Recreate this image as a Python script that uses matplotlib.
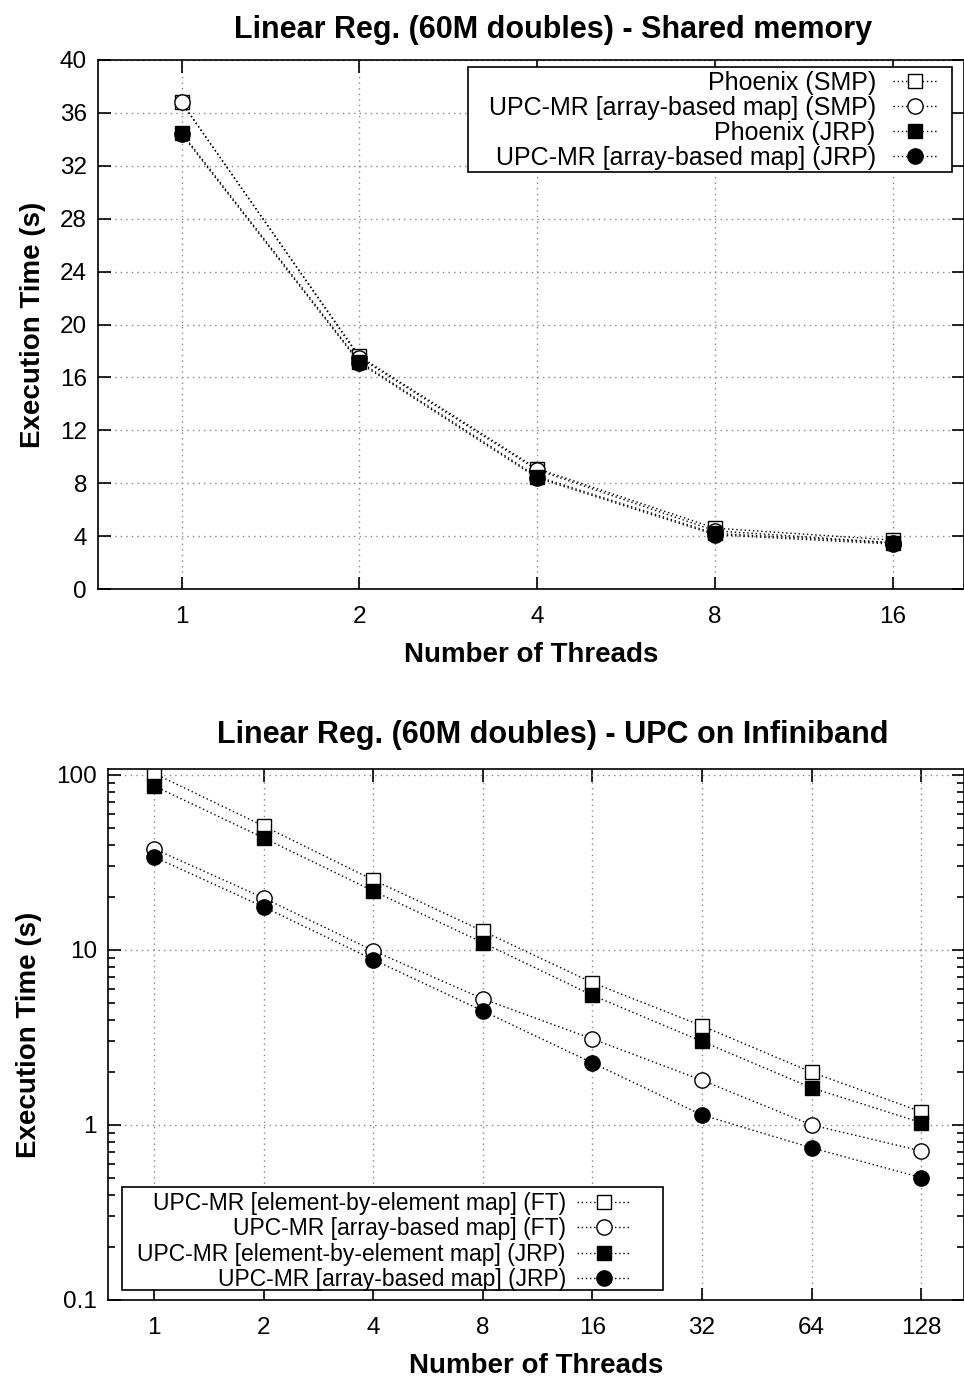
import matplotlib
matplotlib.use("Agg")
import matplotlib.pyplot as plt
from matplotlib.patches import Rectangle
from matplotlib.ticker import FixedLocator, NullFormatter, LogLocator

plt.rcParams['font.family'] = ['Liberation Sans', 'DejaVu Sans']

# shared memory plot
smp_threads = [1, 2, 4, 8, 16]
phoenix_smp = [36.8, 17.6, 9.1, 4.6, 3.7]
upcmr_array_smp = [36.8, 17.5, 9.0, 4.4, 3.5]
phoenix_jrp = [34.5, 17.2, 8.5, 4.2, 3.5]
upcmr_array_jrp = [34.4, 17.1, 8.4, 4.1, 3.4]

# infiniband plot
ib_threads = [1, 2, 4, 8, 16, 32, 64, 128]
elem_ft = [102.0, 51.0, 25.1, 12.8, 6.5, 3.68, 2.0, 1.19]
array_ft = [37.8, 19.8, 9.9, 5.25, 3.1, 1.8, 1.0, 0.71]
elem_jrp = [86.5, 43.6, 21.7, 11.0, 5.5, 3.0, 1.63, 1.03]
array_jrp = [34.0, 17.6, 8.8, 4.48, 2.26, 1.14, 0.74, 0.50]

W, H = 964, 1377
fig = plt.figure(figsize=(W / 100, H / 100), dpi=100)

def ax_at(left, top, right, bottom):
    return fig.add_axes([left / W, 1 - bottom / H, (right - left) / W, (bottom - top) / H])

def fig_box(left, top, right, bottom):
    # legend frame drawn in pixel coords
    r = Rectangle((left / W, 1 - bottom / H), (right - left) / W, (bottom - top) / H,
                  transform=fig.transFigure, facecolor='white', edgecolor='black', linewidth=1.2, zorder=4)
    fig.add_artist(r)

line_kw = dict(color='black', linestyle=(0, (1, 2)), linewidth=1.0)
open_sq = dict(marker='s', markersize=10, markerfacecolor='white', markeredgecolor='black', markeredgewidth=1.0)
open_ci = dict(marker='o', markersize=11, markerfacecolor='white', markeredgecolor='black', markeredgewidth=1.0)
fill_sq = dict(marker='s', markersize=10, markerfacecolor='black', markeredgecolor='black')
fill_ci = dict(marker='o', markersize=11, markerfacecolor='black', markeredgecolor='black')

def style(ax, xs):
    ax.set_xscale('log', base=2)
    ax.xaxis.set_major_locator(FixedLocator(xs))
    ax.xaxis.set_minor_locator(FixedLocator([]))
    ax.set_xticklabels([str(x) for x in xs])
    ax.grid(True, which='major', color='#888888', linestyle=(0, (1, 3)), linewidth=1.0)
    ax.tick_params(which='both', direction='in', top=True, right=True, labelsize=17.5, width=1.2)
    ax.tick_params(which='major', length=9)
    ax.tick_params(axis='x', which='major', pad=12)
    ax.tick_params(axis='y', which='major', pad=8)
    ax.tick_params(which='minor', length=5)
    for s in ax.spines.values():
        s.set_linewidth(1.2)
    ax.set_xlabel('Number of Threads', fontsize=20, fontweight='bold', labelpad=10)
    ax.set_ylabel('Execution Time (s)', fontsize=20, fontweight='bold', labelpad=10)

# top
ax1 = ax_at(98, 60, 964, 589)
ax1.plot(smp_threads, phoenix_smp, label='Phoenix (SMP)', **line_kw, **open_sq)
ax1.plot(smp_threads, upcmr_array_smp, label='UPC-MR [array-based map] (SMP)', **line_kw, **open_ci)
ax1.plot(smp_threads, phoenix_jrp, label='Phoenix (JRP)', **line_kw, **fill_sq)
ax1.plot(smp_threads, upcmr_array_jrp, label='UPC-MR [array-based map] (JRP)', **line_kw, **fill_ci)
style(ax1, smp_threads)
ax1.set_xlim(2 ** -0.47, 2 ** 4.40)
ax1.set_ylim(0, 40)
ax1.set_yticks(range(0, 41, 4))
ax1.set_title('Linear Reg. (60M doubles) - Shared memory', fontsize=22, fontweight='bold', pad=16, x=0.525)
fig_box(468, 67, 952, 172)
leg1 = fig.legend(*ax1.get_legend_handles_labels(), loc='upper right', markerfirst=False, fontsize=18,
                  handlelength=1.75, handletextpad=0.7, labelspacing=0.04, borderpad=0, borderaxespad=0,
                  frameon=False, bbox_to_anchor=(937 / W, 1 - 71 / H))
leg1.set_zorder(5)

# bottom
ax2 = ax_at(108, 769, 964, 1300)
ax2.plot(ib_threads, elem_ft, label='UPC-MR [element-by-element map] (FT)', **line_kw, **open_sq)
ax2.plot(ib_threads, array_ft, label='UPC-MR [array-based map] (FT)', **line_kw, **open_ci)
ax2.plot(ib_threads, elem_jrp, label='UPC-MR [element-by-element map] (JRP)', **line_kw, **fill_sq)
ax2.plot(ib_threads, array_jrp, label='UPC-MR [array-based map] (JRP)', **line_kw, **fill_ci)
ax2.set_yscale('log')
style(ax2, ib_threads)
ax2.set_xlim(2 ** -0.42, 2 ** 7.39)
ax2.set_ylim(0.1, 108)
ax2.set_yticks([0.1, 1, 10, 100])
ax2.set_yticklabels(['0.1', '1', '10', '100'])
ax2.yaxis.set_minor_locator(LogLocator(base=10, subs=range(2, 10)))
ax2.yaxis.set_minor_formatter(NullFormatter())
ax2.set_title('Linear Reg. (60M doubles) - UPC on Infiniband', fontsize=22, fontweight='bold', pad=19, x=0.52)
fig_box(122, 1187, 663, 1290)
leg2 = fig.legend(*ax2.get_legend_handles_labels(), loc='upper right', markerfirst=False, fontsize=16.5,
                  handlelength=2.3, handletextpad=0.5, labelspacing=0.1, borderpad=0, borderaxespad=0,
                  frameon=False, bbox_to_anchor=(630 / W, 1 - 1192 / H))
leg2.set_zorder(5)

fig.savefig('out.png', dpi=100)
